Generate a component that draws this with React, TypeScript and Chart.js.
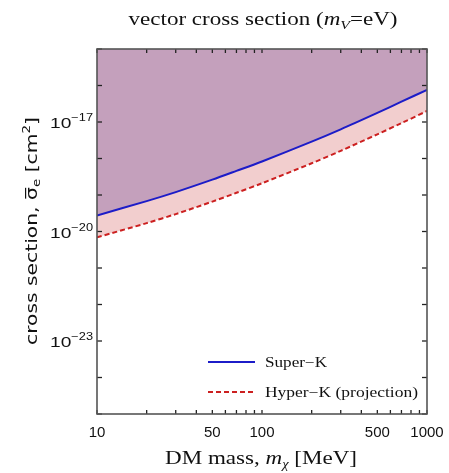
import React, { useEffect, useRef } from 'react';
import { Chart, registerables } from 'chart.js';
Chart.register(...registerables);

// DM mass m_chi [MeV]
const masses = [10, 20, 30, 50, 70, 100, 200, 300, 500, 700, 1000];
// Super-K bound [cm^2]
const superK = [2.75e-20, 6.8e-20, 1.2e-19, 2.63e-19, 4.57e-19, 8.3e-19, 2.9e-18, 6.3e-18, 1.78e-17, 3.6e-17, 7.6e-17];
// Hyper-K projection [cm^2]
const hyperK = [6.9e-21, 1.7e-20, 3.0e-20, 6.6e-20, 1.15e-19, 2.1e-19, 7.4e-19, 1.62e-18, 4.6e-18, 9.3e-18, 2.0e-17];

const xTickValues = [10, 20, 30, 40, 50, 60, 70, 80, 90, 100, 200, 300, 400, 500, 600, 700, 800, 900, 1000];
const xTickLabels = [10, 50, 100, 500, 1000];
const yTickExponents = [-25, -24, -23, -22, -21, -20, -19, -18, -17, -16, -15];
const yLabelExponents = [-17, -20, -23];

type Part = { t: string; font: string; dy?: number; bar?: boolean };

function drawRich(ctx: CanvasRenderingContext2D, parts: Part[], cx: number, y: number, targetW?: number, align: 'center' | 'left' | 'right' = 'center') {
  let w = 0;
  parts.forEach((p) => { ctx.font = p.font; w += ctx.measureText(p.t).width; });
  const sx = targetW ? targetW / w : 1;
  ctx.save();
  const startX = align === 'center' ? cx - (w * sx) / 2 : align === 'left' ? cx : cx - w * sx;
  ctx.translate(startX, y);
  ctx.scale(sx, 1);
  let x = 0;
  ctx.textAlign = 'left';
  ctx.textBaseline = 'alphabetic';
  parts.forEach((p) => {
    ctx.font = p.font;
    const pw = ctx.measureText(p.t).width;
    ctx.fillText(p.t, x, p.dy || 0);
    if (p.bar) ctx.fillRect(x + 1, -12, pw - 1.5, 1.2);
    x += pw;
  });
  ctx.restore();
}

const SERIF = '"Liberation Serif", "DejaVu Serif", serif';
const SANS = '"Liberation Sans", Arial, sans-serif';
const WIDE_SANS = '"DejaVu Sans", "Liberation Sans", sans-serif';

const decorations = {
  id: 'decorations',
  afterDraw(chart: any) {
    const { ctx, chartArea: a, scales } = chart;
    const xs = scales.x;
    const ys = scales.y;
    ctx.save();
    const line = (x1: number, y1: number, x2: number, y2: number) => {
      ctx.beginPath(); ctx.moveTo(x1, y1); ctx.lineTo(x2, y2); ctx.stroke();
    };
    ctx.strokeStyle = '#222';
    ctx.lineWidth = 1.3;
    xs.ticks.forEach((t: any) => {
      const px = xs.getPixelForValue(t.value);
      line(px, a.bottom, px, a.bottom - 4);
      line(px, a.top, px, a.top + 4);
    });
    ys.ticks.forEach((t: any) => {
      const py = ys.getPixelForValue(t.value);
      line(a.left, py, a.left + 5, py);
      line(a.right, py, a.right - 5, py);
    });
    ctx.strokeStyle = '#555';
    ctx.lineWidth = 1.6;
    ctx.strokeRect(a.left, a.top, a.right - a.left, a.bottom - a.top);

    // y tick labels with superscript exponents
    ctx.fillStyle = '#111';
    ys.ticks.forEach((t: any) => {
      const e = Math.round(Math.log10(t.value));
      if (!yLabelExponents.includes(e)) return;
      const py = ys.getPixelForValue(t.value);
      drawRich(ctx, [
        { t: '10', font: `15px ${SANS}` },
        { t: '\u2212' + String(-e), font: `10px ${SANS}`, dy: -7 },
      ], a.left - 4, py + 6, 43, 'right');
    });

    // legend
    const lx1 = a.left + 111, lx2 = a.left + 158, tx = a.left + 168;
    ctx.lineWidth = 2;
    ctx.strokeStyle = '#1c1cc8';
    line(lx1, 362, lx2, 362);
    ctx.strokeStyle = '#cc2020';
    ctx.setLineDash([5, 3]);
    line(lx1, 392, lx2, 392);
    ctx.setLineDash([]);
    ctx.fillStyle = '#111';
    drawRich(ctx, [{ t: 'Super\u2212K', font: `14px ${SERIF}` }], tx, 367, 62, 'left');
    drawRich(ctx, [{ t: 'Hyper\u2212K (projection)', font: `14px ${SERIF}` }], tx, 397, 153, 'left');

    // main title
    drawRich(ctx, [
      { t: 'vector cross section (', font: `19px ${SERIF}` },
      { t: 'm', font: `italic 19px ${SERIF}` },
      { t: 'V', font: `italic 13px ${SERIF}`, dy: 4 },
      { t: '=eV)', font: `19px ${SERIF}` },
    ], 263, 25, 269);

    // x title
    drawRich(ctx, [
      { t: 'DM mass, ', font: `19px ${SERIF}` },
      { t: 'm', font: `italic 19px ${SERIF}` },
      { t: '\u03C7', font: `italic 12px ${SERIF}`, dy: 4 },
      { t: ' [MeV]', font: `19px ${SERIF}` },
    ], 261, 464, 192);

    // y title
    ctx.translate(37, 231);
    ctx.rotate(-Math.PI / 2);
    drawRich(ctx, [
      { t: 'cross section, ', font: `15px ${WIDE_SANS}` },
      { t: '\u03C3', font: `15px ${WIDE_SANS}`, bar: true },
      { t: 'e', font: `10px ${WIDE_SANS}`, dy: 3 },
      { t: ' [cm', font: `15px ${WIDE_SANS}` },
      { t: '2', font: `10px ${WIDE_SANS}`, dy: -7 },
      { t: ']', font: `15px ${WIDE_SANS}` },
    ], 0, 0, 228);
    ctx.restore();
  },
};

export default function App() {
  const ref = useRef<HTMLCanvasElement | null>(null);
  useEffect(() => {
    if (!ref.current) return;
    const chart = new Chart(ref.current, {
      type: 'line',
      data: {
        datasets: [
          {
            label: 'Super-K',
            data: masses.map((m, i) => ({ x: m, y: superK[i] })),
            borderColor: '#1c1cc8',
            borderWidth: 2,
            backgroundColor: '#c4a0bc',
            fill: 'end',
            pointRadius: 0,
            tension: 0.3,
          },
          {
            label: 'Hyper-K (projection)',
            data: masses.map((m, i) => ({ x: m, y: hyperK[i] })),
            borderColor: '#cc2020',
            borderWidth: 2,
            borderDash: [5, 3],
            backgroundColor: '#f2cece',
            fill: 0,
            pointRadius: 0,
            tension: 0.3,
          },
        ],
      },
      options: {
        responsive: false,
        animation: false,
        layout: { padding: { top: 49, right: 22, left: 0, bottom: 0 } },
        plugins: { legend: { display: false }, title: { display: false }, tooltip: { enabled: false } },
        scales: {
          x: {
            type: 'logarithmic',
            min: 10,
            max: 1000,
            grid: { display: false, drawTicks: false },
            border: { display: false },
            afterBuildTicks: (s: any) => { s.ticks = xTickValues.map((v) => ({ value: v })); },
            afterFit: (s: any) => { s.height = 59; s.paddingRight = 0; s.paddingLeft = 0; },
            ticks: {
              autoSkip: false,
              maxRotation: 0,
              padding: 10,
              color: '#111',
              font: { family: SANS, size: 15 },
              callback: (v: any) => (xTickLabels.includes(Number(v)) ? String(v) : ''),
            },
          },
          y: {
            type: 'logarithmic',
            min: 1e-25,
            max: 1e-15,
            grid: { display: false, drawTicks: false },
            border: { display: false },
            afterBuildTicks: (s: any) => { s.ticks = yTickExponents.map((e) => ({ value: Math.pow(10, e) })); },
            afterFit: (s: any) => { s.width = 97; s.paddingTop = 0; s.paddingBottom = 0; },
            ticks: {
              autoSkip: false,
              padding: 5,
              callback: () => '',
            },
          },
        },
      },
      plugins: [decorations],
    } as any);
    return () => chart.destroy();
  }, []);
  return (
    <div style={{ position: 'absolute', left: 0, top: 0, width: 449, height: 473, background: '#fff' }}>
      <canvas ref={ref} width={449} height={473} />
    </div>
  );
}
